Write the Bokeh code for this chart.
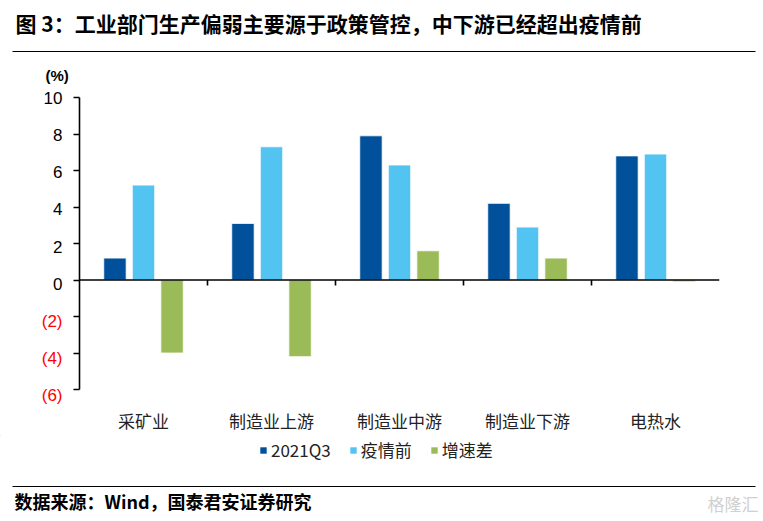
from bokeh.plotting import figure
from bokeh.layouts import column, row
from bokeh.models import (FactorRange, Range1d, Span, Legend, LegendItem,
                          FixedTicker, ColumnDataSource)
from bokeh.transform import dodge
from bokeh.core.properties import value
from bokeh.embed import file_html
from bokeh.resources import INLINE

categories = ["采矿业", "制造业上游", "制造业中游", "制造业下游", "电热水"]
q3_2021 = [1.2, 3.1, 7.9, 4.2, 6.8]
pre_covid = [5.2, 7.3, 6.3, 2.9, 6.9]
gap = [-4.0, -4.2, 1.6, 1.2, -0.1]
series_names = ["2021Q3", "疫情前", "增速差"]
y_ticks = [-6, -4, -2, 0, 2, 4, 6, 8, 10]
y_tick_labels = ["(6)", "(4)", "(2)", "0", "2", "4", "6", "8", "10"]
y_unit = "(%)"
title_text = "图 3：工业部门生产偏弱主要源于政策管控，中下游已经超出疫情前"
source_text = "数据来源：Wind，国泰君安证券研究"
watermark = "格隆汇"

colors = ["#00509B", "#53C3F1", "#9BBB59"]
CJK = "Noto Sans CJK SC"
LAT = "Liberation Sans"

W = 763
H_TOP, H_MAIN, H_LEG, H_BOT = 55, 380, 43, 43
W_LEFT = 72
Y_MIN, Y_MAX = -6, 10
B_TOP, B_BOT = 42, 40
FRAME_H = H_MAIN - B_TOP - B_BOT
PPU = FRAME_H / (Y_MAX - Y_MIN)


def strip_fig(w, h, x_range=None, y_range=None):
    f = figure(width=w, height=h,
               x_range=x_range or Range1d(0, w), y_range=y_range or Range1d(h, 0),
               x_axis_location=None, y_axis_location=None,
               output_backend="svg", toolbar_location=None,
               min_border=0, min_border_left=0, min_border_right=0,
               min_border_top=0, min_border_bottom=0, frame_align=False)
    f.outline_line_color = None
    f.xgrid.visible = False
    f.ygrid.visible = False
    f.background_fill_color = "white"
    f.border_fill_color = "white"
    return f


# ---------- title strip ----------
pt = strip_fig(W, H_TOP)
pt.text(x=[15], y=[22], text=[title_text], text_font=value(CJK), text_font_size="21px",
        text_font_style="bold", text_color="black", text_align="left",
        text_baseline="middle")
pt.segment(x0=[12], x1=[755], y0=[51], y1=[51], line_color="black", line_width=1.2)

# ---------- left strip: y tick labels and unit (same value scale as chart) ----------
left_range = Range1d(Y_MIN - B_BOT / PPU, Y_MAX + B_TOP / PPU)
plft = strip_fig(W_LEFT, H_MAIN, y_range=left_range)
tick_src = ColumnDataSource(dict(
    y=y_ticks, t=y_tick_labels,
    c=["#FF0000" if v < 0 else "black" for v in y_ticks]))
plft.text(x=62, y="y", text="t", text_color="c", source=tick_src,
          text_font=value(LAT), text_font_size="17px",
          text_align="right", text_baseline="middle")
plft.text(x=[45], y=[Y_MAX + 22 / PPU], text=[y_unit], text_font=value(LAT),
          text_font_size="15px", text_font_style="bold", text_color="black",
          text_align="left", text_baseline="middle")

# ---------- main chart ----------
src = ColumnDataSource(dict(cat=categories, q3=q3_2021, pre=pre_covid, gap=gap))

p = figure(width=W - W_LEFT, height=H_MAIN,
           x_range=FactorRange(*categories, range_padding=0),
           y_range=Range1d(Y_MIN, Y_MAX),
           output_backend="svg", toolbar_location=None,
           min_border_left=79 - W_LEFT, min_border_right=44,
           min_border_top=B_TOP, min_border_bottom=B_BOT, frame_align=False)
p.outline_line_color = None
p.xgrid.visible = False
p.ygrid.visible = False
p.background_fill_color = "white"
p.border_fill_color = "white"

off = 0.223
bw = 0.175
p.vbar(x=dodge("cat", -off, range=p.x_range), top="q3", bottom=0, width=bw,
       source=src, fill_color=colors[0], line_color="white", line_width=0.8)
p.vbar(x=dodge("cat", 0, range=p.x_range), top="pre", bottom=0, width=bw,
       source=src, fill_color=colors[1], line_color="white", line_width=0.8)
p.vbar(x=dodge("cat", off, range=p.x_range), top="gap", bottom=0, width=bw,
       source=src, fill_color=colors[2], line_color="white", line_width=0.8)

# zero line and category separator ticks
p.add_layout(Span(location=0, dimension="width", line_color="black", line_width=1.6))
bsrc = ColumnDataSource(dict(cat=categories[:-1]))
p.segment(x0=dodge("cat", 0.5, range=p.x_range), x1=dodge("cat", 0.5, range=p.x_range),
          y0=0, y1=-0.3, source=bsrc, line_color="black", line_width=1.6)

# y axis: line and ticks (labels drawn in the left strip)
ya = p.yaxis[0]
ya.ticker = FixedTicker(ticks=y_ticks)
ya.axis_line_color = "black"
ya.axis_line_width = 1.6
ya.major_tick_line_width = 1.6
ya.major_tick_out = 6
ya.major_tick_in = 0
ya.minor_tick_line_color = None
ya.major_label_standoff = 0
ya.major_label_text_font_size = "0px"
ya.major_label_overrides = {v: "" for v in y_ticks}

# x axis: labels only
xa = p.xaxis[0]
xa.axis_line_color = None
xa.major_tick_line_color = None
xa.minor_tick_line_color = None
xa.major_label_standoff = 12
xa.major_label_text_font = CJK
xa.major_label_text_font_size = "17px"
xa.major_label_text_color = "#222222"

# ---------- legend strip ----------
pleg = strip_fig(W, H_LEG)
leg_renderers = [pleg.vbar(x=[-100], top=[-100], bottom=[-101], width=1,
                           fill_color=c, line_color=None) for c in colors]
legend = Legend(items=[LegendItem(label=n, renderers=[r])
                       for n, r in zip(series_names, leg_renderers)],
                orientation="horizontal", location=(259, 16),
                glyph_width=8, glyph_height=8, label_standoff=4, spacing=18,
                padding=0, margin=0, border_line_color=None,
                background_fill_alpha=0,
                label_text_font=CJK, label_text_font_size="17px",
                label_text_color="#222222")
pleg.add_layout(legend, "center")

# ---------- footer strip ----------
pb = strip_fig(W, H_BOT)
pb.segment(x0=[12], x1=[755], y0=[8], y1=[8], line_color="black", line_width=1.2)
pb.text(x=[14], y=[22], text=[source_text], text_font=value(CJK), text_font_size="18px",
        text_font_style="bold", text_color="black", text_align="left",
        text_baseline="middle")
pb.text(x=[758], y=[25], text=[watermark], text_font=value(CJK), text_font_size="17px",
        text_color="#D0D0D0", text_align="right", text_baseline="middle")

layout = column(pt, row(plft, p, spacing=0), pleg, pb, spacing=0)
open("out.html", "w").write(file_html(layout, INLINE))
